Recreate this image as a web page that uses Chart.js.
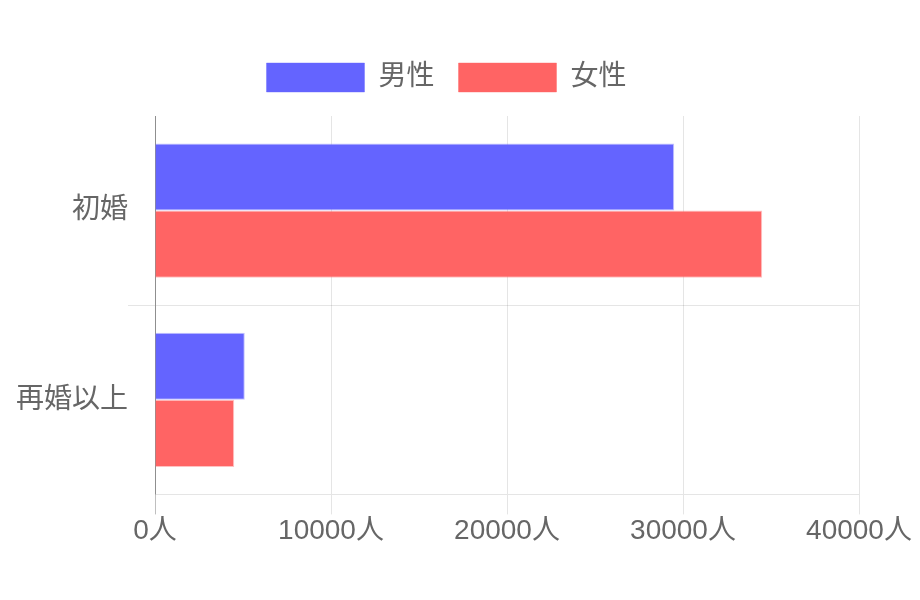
<!DOCTYPE html>
<html>
<head>
<meta charset="utf-8">
<script src="https://cdn.jsdelivr.net/npm/chart.js@4/dist/chart.umd.min.js"></script>
<style>
  html, body { margin: 0; padding: 0; background: #fff; }
  #wrap { width: 920px; height: 600px; }
</style>
</head>
<body>
<div id="wrap"><canvas id="chart"></canvas></div>
<script>
// Data
const categories = ['初婚', '再婚以上'];
const maleValues = [29500, 5100];
const femaleValues = [34500, 4500];
const seriesNames = ['男性', '女性'];
const xTicks = [0, 10000, 20000, 30000, 40000];

const FONT = '"Liberation Sans", "Noto Sans CJK JP", sans-serif';
const GRID = 'rgba(0,0,0,0.1)';
const AXIS = 'rgba(0,0,0,0.25)';

// legend sits a little right of the plot centre in the original
const legendShift = {
  id: 'legendShift',
  afterLayout(chart) {
    chart.legend.left += 10;
    chart.legend.right += 10;
  }
};

const ctx = document.getElementById('chart').getContext('2d');
const chart = new Chart(ctx, {
  type: 'bar',
  data: {
    labels: categories,
    datasets: [{
      label: seriesNames[0],
      data: maleValues,
      backgroundColor: 'rgb(100,100,255)',
      borderColor: 'rgba(100,100,255,0.4)',
      borderWidth: 1
    }, {
      label: seriesNames[1],
      data: femaleValues,
      backgroundColor: 'rgb(255,100,100)',
      borderColor: 'rgba(255,100,100,0.4)',
      borderWidth: 1
    }]
  },
  options: {
    indexAxis: 'y',
    responsive: true,
    maintainAspectRatio: false,
    animation: false,
    devicePixelRatio: 1,
    datasets: {
      bar: { categoryPercentage: 0.71, barPercentage: 1 }
    },
    layout: { padding: { top: 39, left: 14, right: 61, bottom: 52 } },
    plugins: {
      legend: {
        position: 'top',
        labels: {
          boxWidth: 98,
          boxHeight: 29,
          padding: 24,
          color: '#666',
          font: { family: FONT, size: 28 }
        }
      },
      tooltip: { enabled: false }
    },
    scales: {
      x: {
        min: xTicks[0],
        max: xTicks[xTicks.length - 1],
        ticks: {
          stepSize: 10000,
          padding: 0,
          color: '#666',
          font: { family: FONT, size: 28 },
          callback: v => v + '人'
        },
        grid: {
          color: c => (c.index === 0 ? AXIS : GRID),
          tickLength: 20
        },
        border: { color: GRID }
      },
      y: {
        afterFit: scale => { scale.width = 141; },
        ticks: {
          padding: 0,
          color: '#666',
          font: { family: FONT, size: 28 }
        },
        grid: {
          offset: true,
          tickLength: 27,
          color: c => (c.index === 1 ? GRID : 'transparent')
        },
        border: { color: AXIS }
      }
    }
  },
  plugins: [legendShift]
});

// a bit more room under the legend
const legendFit = chart.legend.fit;
chart.legend.fit = function () {
  legendFit.call(this);
  this.height += 14;
};
chart.update();
</script>
</body>
</html>
